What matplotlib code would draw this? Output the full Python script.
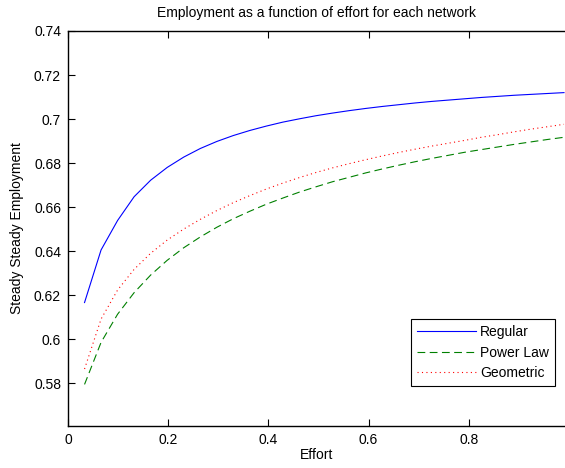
import matplotlib
matplotlib.use("Agg")
import matplotlib.pyplot as plt
import numpy as np

plt.rcParams['font.family'] = ['Liberation Sans', 'DejaVu Sans']

# effort levels (30 steps of 0.033)
effort = [0.033, 0.066, 0.099, 0.132, 0.165, 0.198, 0.231, 0.264, 0.297, 0.330,
          0.363, 0.396, 0.429, 0.462, 0.495, 0.528, 0.561, 0.594, 0.627, 0.660,
          0.693, 0.726, 0.759, 0.792, 0.825, 0.858, 0.891, 0.924, 0.957, 0.990]

regular = [0.6166, 0.6405, 0.6539, 0.6647, 0.6722, 0.6780, 0.6827, 0.6866, 0.6898, 0.6925,
           0.6948, 0.6968, 0.6986, 0.7001, 0.7015, 0.7027, 0.7038, 0.7048, 0.7057, 0.7065,
           0.7073, 0.7080, 0.7086, 0.7092, 0.7098, 0.7103, 0.7108, 0.7112, 0.7116, 0.7120]

power_law = [0.5794, 0.5985, 0.6113, 0.6211, 0.6291, 0.6358, 0.6415, 0.6464, 0.6508, 0.6547,
             0.6581, 0.6613, 0.6641, 0.6668, 0.6692, 0.6715, 0.6735, 0.6755, 0.6773, 0.6790,
             0.6806, 0.6821, 0.6835, 0.6849, 0.6861, 0.6873, 0.6885, 0.6896, 0.6907, 0.6917]

geometric = [0.5864, 0.6091, 0.6223, 0.6317, 0.6390, 0.6450, 0.6500, 0.6544, 0.6584, 0.6620,
             0.6652, 0.6682, 0.6709, 0.6734, 0.6757, 0.6778, 0.6797, 0.6815, 0.6832, 0.6848,
             0.6863, 0.6877, 0.6890, 0.6903, 0.6917, 0.6929, 0.6942, 0.6954, 0.6965, 0.6976]

yticks = [0.58, 0.6, 0.62, 0.64, 0.66, 0.68, 0.7, 0.72, 0.74]
yticklabels = ['0.58', '0.6', '0.62', '0.64', '0.66', '0.68', '0.7', '0.72', '0.74']
xticks = [0, 0.2, 0.4, 0.6, 0.8]
xticklabels = ['0', '0.2', '0.4', '0.6', '0.8']

fs = 10

fig = plt.figure(figsize=(5.65, 4.68), dpi=100)
ax = fig.add_axes([68 / 565, 42 / 468, 497 / 565, 395 / 468])

ax.plot(effort, regular, color='#0000ff', lw=0.8, label='Regular')
ax.plot(effort, power_law, color='#008000', lw=0.8, ls=(0, (7, 4)), label='Power Law')
ax.plot(effort, geometric, color='#ff0000', lw=0.8, ls=(0, (1, 3)), label='Geometric')

ax.set_xlim(0, 0.992)
ax.set_ylim(0.5605, 0.74)
ax.set_xticks(xticks)
ax.set_xticklabels(xticklabels)
ax.set_yticks(yticks)
ax.set_yticklabels(yticklabels)
ax.tick_params(direction='in', length=5, width=0.8, labelsize=fs, top=True, right=False, pad=5)
ax.spines['right'].set_visible(False)
for s in ['left', 'bottom', 'top']:
    ax.spines[s].set_linewidth(1.0)

ax.set_title('Employment as a function of effort for each network', fontsize=fs, pad=10)
ax.set_xlabel('Effort', fontsize=fs, labelpad=1)
ax.set_ylabel('Steady Steady Employment', fontsize=fs, labelpad=7)

leg = ax.legend(loc='lower right', bbox_to_anchor=(0.98, 0.101), borderaxespad=0,
                fontsize=fs, fancybox=False, framealpha=1, edgecolor='black',
                handlelength=4.2, handletextpad=0.3, labelspacing=0.45, borderpad=0.45)
leg.get_frame().set_linewidth(0.8)

fig.savefig('out.png', dpi=100)
